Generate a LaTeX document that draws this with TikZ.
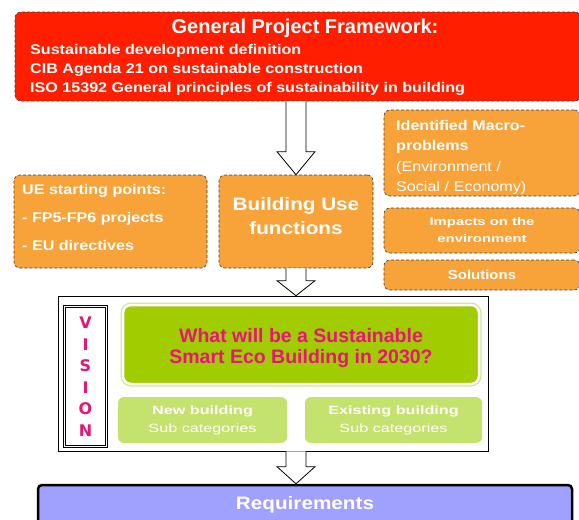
\documentclass[tikz,border=0pt]{standalone}
\usepackage{fontspec}
\setmainfont{Liberation Sans}
\newfontfamily\widefont[FakeStretch=1.15]{Liberation Sans}
\newfontfamily\widerfont[FakeStretch=1.35]{Liberation Sans}
\newfontfamily\visionfont{DejaVu Sans}
\usepackage{tikz}
\usetikzlibrary{calc,positioning}
\definecolor{FrameRed}{RGB}{255,30,0}
\definecolor{UseOrange}{RGB}{248,162,58}
\definecolor{EdgeGrey}{RGB}{70,60,50}
\definecolor{EcoGreen}{RGB}{160,204,0}
\definecolor{EcoLight}{RGB}{196,226,110}
\definecolor{EcoRim}{RGB}{205,232,140}
\definecolor{VisionPink}{RGB}{232,20,120}
\definecolor{ReqBlue}{RGB}{160,160,255}

% open block arrow from #2 down to #3, head length #1
\newcommand\hollowarrow[3][23pt]{%
  \draw[line width=0.8pt,fill=white] let \p1=(#2), \p2=(#3) in
    (\x1-10pt,\y1) -- (\x1-10pt,\y2+#1) -- (\x1-19pt,\y2+#1) -- (\x1,\y2)
    -- (\x1+19pt,\y2+#1) -- (\x1+10pt,\y2+#1) -- (\x1+10pt,\y1);}

\begin{document}
\begin{tikzpicture}[x=1pt,y=-1pt,
  d/.style={draw=EdgeGrey,dashed,dash pattern=on 3pt off 2pt,line width=0.6pt,rounded corners=6pt,inner sep=0pt},
  o/.style={d,fill=UseOrange,text=white,minimum width=196},
  t/.style={text=white,inner sep=0pt},
  g/.style={fill=EcoGreen,draw=white,line width=2.5pt,preaction={draw=EcoRim,line width=5pt},rounded corners=8pt,inner sep=0pt,text=VisionPink,align=center},
  s/.style={fill=EcoLight,rounded corners=6pt,inner sep=0pt,text=white,minimum height=46,align=center,font=\widerfont\fontsize{12}{18}\selectfont}]
\useasboundingbox (0,0) rectangle (579,520);

% framework
\node[d,fill=FrameRed,minimum width=566,minimum height=89] (frame) at (298,56.5) {};
\node[t,font=\bfseries\fontsize{20}{24}\selectfont] (ftitle) at (305,28) {General Project Framework:};
\node[t,anchor=north west,align=left,font=\widefont\bfseries\fontsize{14}{19}\selectfont] (flist) at (30,44)
  {Sustainable development definition\\CIB Agenda 21 on sustainable construction\\ISO 15392 General principles of sustainability in building};

% inputs
\node[o,minimum width=193,minimum height=93] (ue) at (110.5,221.5) {};
\node[t,anchor=west,align=left,font=\widefont\bfseries\fontsize{14}{19}\selectfont] (uetext) at (22,217)
  {UE starting points:\\[9pt]- FP5-FP6 projects\\[9pt]- EU directives};
\node[o,minimum width=154,minimum height=93] (use) at (296,221.5) {};
\node[t,align=center,font=\widefont\bfseries\fontsize{18}{24}\selectfont] (usetext) at (296,216) {Building Use\\functions};
\node[o,minimum height=86] (macro) at (482,153) {};
\node[t,anchor=west,text width=172,align=left,font=\widefont\fontsize{14}{20.5}\selectfont] (macrotext) at (396,157.5)
  {\textbf{Identified Macro-}\\\textbf{problems}\\(Environment /\\Social / Economy)};
\node[o,minimum height=45,align=center,font=\widerfont\bfseries\fontsize{11}{17}\selectfont] (impact) at (482,230.5) {Impacts on the\\environment};
\node[o,minimum height=30,font=\widefont\bfseries\fontsize{13}{16}\selectfont] (sol) at (482,275) {Solutions};

% vision block
\node[draw,line width=0.6pt,fill=white,minimum width=430,minimum height=155,inner sep=0pt] (vision) at (273,373.5) {};
\node[draw,line width=2.6pt,fill=white,postaction={draw=white,line width=1pt},minimum width=42,minimum height=140,inner sep=0pt,align=center,
  text=VisionPink,font=\visionfont\bfseries\fontsize{16}{21.5}\selectfont] (vlabel) at (85.5,376.5) {V\\I\\S\\I\\O\\N};
\node[g,minimum width=356,minimum height=79] (question) at (301,344.5) {};
\node[t,text=VisionPink,align=center,font=\bfseries\fontsize{19.5}{21}\selectfont] (qtext) at (301,348)
  {What will be a Sustainable\\Smart Eco Building in 2030?};
\node[s,minimum width=169] (newb) at (202.5,420) {\textbf{New building}\\Sub categories};
\node[s,minimum width=177] (oldb) at (393.5,420) {\textbf{Existing building}\\Sub categories};

% requirements
\node[draw,line width=2.5pt,fill=ReqBlue,rounded corners=4pt,minimum width=534,minimum height=40,inner sep=0pt,text=white,
  font=\widefont\bfseries\fontsize{18}{20}\selectfont] (req) at (305,505) {Requirements};

\hollowarrow{use.north |- frame.south}{use.north}
\hollowarrow[15pt]{use.south}{use.south |- vision.north}
\hollowarrow[17pt]{use.south |- vision.south}{use.south |- req.north}
\end{tikzpicture}
\end{document}
